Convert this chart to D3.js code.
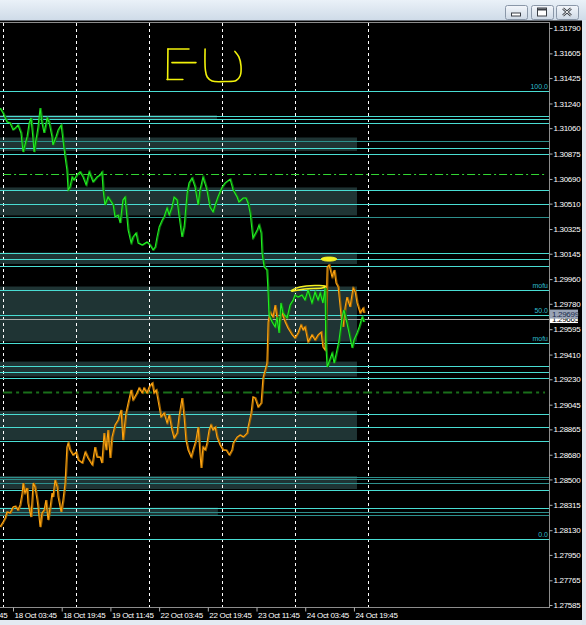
<!DOCTYPE html>
<html><head><meta charset="utf-8">
<script src="https://cdn.jsdelivr.net/npm/d3@7"></script>
<style>body{margin:0;background:#dfe7f0;overflow:hidden}svg{display:block}</style>
</head><body><svg id="c" width="586" height="625"></svg>
<script>
// ---------- data ----------
const yTickLabels = ["1.31790","1.31605","1.31425","1.31240","1.31060","1.30875","1.30690","1.30510","1.30325","1.30145","1.29960","1.29780","1.29595","1.29410","1.29230","1.29045","1.28865","1.28680","1.28500","1.28315","1.28130","1.27950","1.27765","1.27585"];
const xTickHours = [-16,0,16,32,48,64,80,96,112];
const xTickLabels = ["17 Oct 11:45","18 Oct 03:45","18 Oct 19:45","19 Oct 11:45","22 Oct 03:45","22 Oct 19:45","23 Oct 11:45","24 Oct 03:45","24 Oct 19:45"];
const gridHours = [-3.25,20.75,44.75,68.75,92.75,116.75];

const greenHours = [-4.3,-3.3,-2.0,-1.0,0,0.7,1.6,2.6,3.3,3.9,
4.6,5.3,5.9,6.6,6.9,7.9,8.2,8.9,9.5,10.2,
11.2,11.8,12.8,13.1,14.1,14.8,15.8,16.4,17.1,17.7,
18.1,18.7,19.4,20.0,21.0,22.0,23.0,24.0,25.0,26.3,
27.6,28.6,29.2,29.6,30.2,31.2,32.9,33.5,34.5,35.2,
36.1,36.8,37.5,37.8,38.8,39.4,40.4,41.1,42.4,44.0,
45.0,46.0,46.7,47.3,48.0,49.0,49.6,50.6,51.3,52.2,
52.9,53.9,54.5,55.5,56.2,57.2,57.8,58.8,59.8,60.8,
61.4,62.4,63.7,64.7,65.7,66.4,67.3,68.7,69.6,71.3,
72.3,73.6,74.2,75.6,76.5,77.2,77.9,78.5,78.8,80.2,
80.8,81.5,81.8,82.5,83.4,83.8,84.1,85.1,86.1,86.7,
87.4,88.0,88.7,90.0,91.0,92.0,92.6,93.6,94.9,95.9,
96.9,98.2,99.2,100.2,100.9,101.8,102.5,102.8,103.2,103.8,
104.8,105.5,106.4,107.1,108.1,108.7,109.7,110.4,111.4,112.0,
113.0,113.7,114.7,115.3];
const greenPrices = [1.31207,1.31170,1.31105,1.31098,1.31047,1.31061,1.31083,1.31025,1.30886,1.30937,
1.30996,1.31098,1.31134,1.30974,1.30886,1.31025,1.31068,1.31207,1.31098,1.31025,
1.31134,1.31105,1.30996,1.30937,1.30996,1.31047,1.31083,1.30974,1.30850,1.30755,
1.30609,1.30631,1.30704,1.30682,1.30719,1.30741,1.30704,1.30646,1.30741,1.30668,
1.30704,1.30719,1.30741,1.30609,1.30500,1.30558,1.30500,1.30413,1.30427,1.30369,
1.30536,1.30558,1.30391,1.30318,1.30223,1.30267,1.30296,1.30223,1.30208,1.30230,
1.30208,1.30172,1.30194,1.30267,1.30340,1.30391,1.30413,1.30478,1.30427,1.30485,
1.30558,1.30536,1.30427,1.30267,1.30340,1.30587,1.30660,1.30697,1.30631,1.30500,
1.30609,1.30704,1.30609,1.30485,1.30449,1.30500,1.30558,1.30631,1.30660,1.30689,
1.30609,1.30558,1.30522,1.30551,1.30551,1.30515,1.30442,1.30318,1.30259,1.30318,
1.30354,1.30296,1.30150,1.30048,1.30026,1.29859,1.29698,1.29647,1.29611,1.29684,
1.29567,1.29786,1.29713,1.29676,1.29771,1.29808,1.29844,1.29829,1.29844,1.29808,
1.29880,1.29786,1.29866,1.29808,1.29859,1.29786,1.29895,1.29465,1.29319,1.29356,
1.29421,1.29348,1.29443,1.29516,1.29684,1.29735,1.29640,1.29567,1.29458,1.29516,
1.29567,1.29611,1.29684,1.29647];

const orangeHours = [-4.3,-3.3,-2.6,-2.0,-1.0,0,0.7,1.6,2.3,3.0,
3.3,3.9,4.6,4.9,5.9,6.2,6.6,7.2,7.9,8.2,
8.9,9.5,10.2,10.8,11.5,12.2,12.8,13.1,13.8,14.5,
14.8,15.8,16.4,17.1,17.7,18.1,18.7,19.7,20.7,21.4,
22.7,23.7,24.6,26.0,26.9,27.6,28.6,29.2,29.9,30.6,
31.2,31.9,32.5,33.5,34.5,35.5,36.1,37.1,37.8,38.8,
39.4,40.7,41.4,42.4,43.0,44.0,44.7,45.7,46.3,47.0,
47.6,48.6,49.6,50.6,51.3,52.2,52.9,53.9,54.5,55.5,
56.2,56.8,57.5,58.5,59.1,60.1,60.8,61.4,61.8,62.4,
63.1,63.7,64.4,65.0,65.7,66.4,67.0,68.0,69.0,70.0,
71.0,71.9,72.3,73.6,74.6,75.6,76.9,77.2,78.2,78.8,
79.5,80.5,81.5,82.1,82.8,83.4,83.8,84.4,85.4,86.1,
86.7,87.4,88.4,89.4,90.3,91.7,92.6,93.6,94.6,95.3,
95.9,96.9,98.2,99.2,100.2,101.2,101.8,102.5,103.2,103.8,
104.8,105.5,106.1,106.8,107.8,108.4,109.1,109.7,110.7,111.7,
112.4,113.0,114.0,115.0,115.3];
const orangePrices = [1.28153,1.28190,1.28219,1.28263,1.28255,1.28299,1.28306,1.28277,1.28314,1.28401,
1.28474,1.28401,1.28437,1.28328,1.28226,1.28328,1.28474,1.28445,1.28350,1.28299,
1.28153,1.28255,1.28277,1.28350,1.28204,1.28299,1.28401,1.28372,1.28496,1.28445,
1.28372,1.28263,1.28350,1.28474,1.28736,1.28765,1.28714,1.28678,1.28700,1.28642,
1.28620,1.28700,1.28656,1.28605,1.28736,1.28663,1.28663,1.28620,1.28838,1.28714,
1.28860,1.28656,1.28809,1.28897,1.28933,1.29006,1.28787,1.28984,1.29057,1.29152,
1.29079,1.29130,1.29166,1.29130,1.29166,1.29130,1.29174,1.29203,1.29130,1.29152,
1.29079,1.28955,1.28984,1.28911,1.28970,1.28860,1.28802,1.28838,1.28955,1.29093,
1.28955,1.28787,1.28714,1.28663,1.28714,1.28787,1.28882,1.28693,1.28583,1.28736,
1.28714,1.28765,1.28860,1.28897,1.28860,1.28882,1.28809,1.28751,1.28714,1.28714,
1.28678,1.28714,1.28765,1.28809,1.28824,1.28809,1.28838,1.28882,1.28984,1.29101,
1.29093,1.29028,1.29057,1.29239,1.29297,1.29348,1.29647,1.29720,1.29684,1.29771,
1.29684,1.29647,1.29713,1.29647,1.29604,1.29553,1.29531,1.29567,1.29625,1.29589,
1.29611,1.29502,1.29553,1.29516,1.29553,1.29574,1.29465,1.29443,1.30048,1.30063,
1.29975,1.30026,1.29931,1.29902,1.29684,1.29611,1.29757,1.29829,1.29757,1.29895,
1.29866,1.29786,1.29713,1.29749,1.29713];

// horizontal level lines (b = bright, d = dim)
const levelPrices = [1.31331,1.31146,1.31127,1.31096,1.30966,1.30918,1.30870,1.30609,1.30507,1.30416,1.30147,1.30103,1.30053,1.29884,1.29698,1.29498,1.29329,1.29281,1.29237,1.28975,1.28880,1.28778,1.28518,1.28500,1.28474,1.28421,1.28289,1.28264,1.28240,1.28063];
const levelKinds  = ["b","b","b","b","d","b","b","b","b","d","b","b","b","b","b","b","b","b","b","b","b","b","d","d","d","b","b","d","d","b"];
// shaded zones
const zoneTop    = [1.31156,1.30992,1.30628,1.30154,1.29906,1.29359,1.28999,1.28525,1.28295];
const zoneBottom = [1.31127,1.30894,1.30424,1.30070,1.29505,1.29250,1.28787,1.28430,1.28234];
const zoneEndHours = [67.0,113,113,113,113,113,113,113,67.3];
// fibo labels
const fiboPrices = [1.31331,1.29884,1.29698,1.29498,1.28063];
const fiboLabels = ["100.0","mofu","50.0","mofu","0.0"];
const dashDotPrices = [1.30726,1.29137];
const dashDotColors = ["#33d633","#1a6f1a"];
const bidPrice = 1.29669, bidLabel = "1.29665";
const markPrice = 1.29705, markLabel = "1.29699";
// hand-drawn annotation (hours, price)
const letterE = [
  [[50.9,1.31637],[50.8,1.31415]],
  [[50.9,1.31637],[57.8,1.31637]],
  [[52.2,1.31538],[60.1,1.31538]],
  [[50.6,1.31415],[55.8,1.31415]]
];
const letterU = [[63.1,1.31637],[63.2,1.31484],[63.8,1.31433],[65.4,1.31404],[69.6,1.31400],[73.3,1.31407],[74.6,1.31440],[74.9,1.31513],[74.2,1.31579],[72.9,1.31619]];
const blobTop = [[101.2,1.30106],[102.5,1.30119],[105.1,1.30119],[106.4,1.30106],[105.1,1.30093],[102.5,1.30093]];
const loopMid = [[91.7,1.29880],[94.3,1.29902],[99.2,1.29913],[102.5,1.29910],[101.5,1.29895],[95.9,1.29888],[92.0,1.29873]];

// ---------- layout ----------
const W = 586, H = 625;
const plotL = 0, plotR = 549, plotT = 23, plotB = 607;
const x = d3.scaleLinear().domain([-4.271, 176.08]).range([0, 549]);
const y = d3.scaleLinear().domain([1.27585, 1.31790]).range([605, 28]);

const svg = d3.select("#c");
const defs = svg.append("defs");
const g1 = defs.append("linearGradient").attr("id","chrome").attr("x1",0).attr("y1",0).attr("x2",0).attr("y2",1);
g1.append("stop").attr("offset","0").attr("stop-color","#eaf1f8");
g1.append("stop").attr("offset","1").attr("stop-color","#cfdbe8");
const g2 = defs.append("linearGradient").attr("id","btn").attr("x1",0).attr("y1",0).attr("x2",0).attr("y2",1);
g2.append("stop").attr("offset","0").attr("stop-color","#f4f7fb");
g2.append("stop").attr("offset","1").attr("stop-color","#cdd8e5");
defs.append("clipPath").attr("id","plot").append("rect")
  .attr("x",plotL).attr("y",plotT).attr("width",plotR-plotL).attr("height",plotB-plotT);

// window background
svg.append("rect").attr("width",W).attr("height",H).attr("fill","#dde6ef");
svg.append("rect").attr("width",W).attr("height",20).attr("fill","url(#chrome)");
svg.append("rect").attr("x",0).attr("y",20).attr("width",582).attr("height",600).attr("fill","#000");
svg.append("line").attr("x1",0).attr("x2",582).attr("y1",20.5).attr("y2",20.5).attr("stroke","#6a6f76");

// window buttons
const btnX = [505,531,556];
btnX.forEach((bx,i)=>{
  svg.append("rect").attr("x",bx+0.5).attr("y",5.5).attr("width",22).attr("height",14).attr("rx",2)
    .attr("fill","url(#btn)").attr("stroke","#8a97a8");
  const cx = bx+11, cy = 12.5;
  if(i===0){
    svg.append("rect").attr("x",cx-4.5).attr("y",cy+0.5).attr("width",9).attr("height",3).attr("fill","#fff").attr("stroke","#3a3f46");
  } else if(i===1){
    svg.append("rect").attr("x",cx-4.5).attr("y",cy-4.5).attr("width",9).attr("height",8).attr("fill","#fff").attr("stroke","#3a3f46");
    svg.append("line").attr("x1",cx-4.5).attr("x2",cx+4.5).attr("y1",cy-3).attr("y2",cy-3).attr("stroke","#3a3f46").attr("stroke-width",2);
  } else {
    svg.append("path").attr("d",`M${cx-4},${cy-4}L${cx+4},${cy+3}M${cx+4},${cy-4}L${cx-4},${cy+3}`)
      .attr("stroke","#3a3f46").attr("stroke-width",2.4);
    svg.append("path").attr("d",`M${cx-4},${cy-4}L${cx+4},${cy+3}M${cx+4},${cy-4}L${cx-4},${cy+3}`)
      .attr("stroke","#fff").attr("stroke-width",0.9);
  }
});

const plot = svg.append("g").attr("clip-path","url(#plot)");

// zones
plot.selectAll("rect.zone").data(zoneTop).join("rect").attr("class","zone")
  .attr("x", x(-6))
  .attr("y", d=>y(d))
  .attr("width",(d,i)=>x(zoneEndHours[i])-x(-6))
  .attr("height",(d,i)=>y(zoneBottom[i])-y(d))
  .attr("fill","#1f3434");

// vertical grid
plot.selectAll("line.grid").data(gridHours).join("line").attr("class","grid")
  .attr("x1",d=>Math.round(x(d))+0.5).attr("x2",d=>Math.round(x(d))+0.5)
  .attr("y1",plotT).attr("y2",plotB)
  .attr("stroke","#ffffff").attr("stroke-dasharray","3,3").attr("stroke-width",1);

// level lines
plot.selectAll("line.lvl").data(levelPrices).join("line").attr("class","lvl")
  .attr("x1",plotL).attr("x2",plotR)
  .attr("y1",d=>Math.round(y(d))+0.5).attr("y2",d=>Math.round(y(d))+0.5)
  .attr("stroke",(d,i)=>levelKinds[i]==="b"?"#49ddd3":"#2d8f8c").attr("stroke-width",1);

// dash-dot lines
plot.selectAll("line.dd").data(dashDotPrices).join("line").attr("class","dd")
  .attr("x1",x(gridHours[0])).attr("x2",plotR-4)
  .attr("y1",d=>Math.round(y(d))+0.5).attr("y2",d=>Math.round(y(d))+0.5)
  .attr("stroke",(d,i)=>dashDotColors[i])
  .attr("stroke-width",(d,i)=>i===0?1.2:2)
  .attr("stroke-dasharray",(d,i)=>i===0?"8,3,2,3":"9,4,3,4");

// bid line
plot.append("line").attr("x1",plotL).attr("x2",plotR)
  .attr("y1",Math.round(y(bidPrice))+0.5).attr("y2",Math.round(y(bidPrice))+0.5)
  .attr("stroke","#a9a9a9");

// fibo labels
plot.selectAll("text.fibo").data(fiboPrices).join("text").attr("class","fibo")
  .attr("x",plotR-1).attr("y",d=>y(d)-2)
  .attr("text-anchor","end").attr("font-family","Liberation Sans, Arial, sans-serif")
  .attr("font-size",7).attr("fill","#2fbccb")
  .text((d,i)=>fiboLabels[i]);

// series
const line = d3.line().x(d=>x(d[0])).y(d=>y(d[1]));
const orange = orangeHours.map((h,i)=>[h,orangePrices[i]]);
const green = greenHours.map((h,i)=>[h,greenPrices[i]]);
plot.append("path").datum(orange).attr("d",line).attr("fill","none")
  .attr("stroke","#9a6000").attr("stroke-width",1.4).attr("transform","translate(1,0)");
plot.append("path").datum(orange).attr("d",line).attr("fill","none")
  .attr("stroke","#ffa511").attr("stroke-width",1.1);
plot.append("path").datum(green).attr("d",line).attr("fill","none")
  .attr("stroke","#0c7a0c").attr("stroke-width",1.4).attr("transform","translate(1,0)");
plot.append("path").datum(green).attr("d",line).attr("fill","none")
  .attr("stroke","#22ee22").attr("stroke-width",1.1);

// annotations
const ann = d3.line().x(d=>x(d[0])).y(d=>y(d[1]));
letterE.forEach(seg=>{
  plot.append("path").datum(seg).attr("d",ann).attr("fill","none")
    .attr("stroke","#f2f20a").attr("stroke-width",1.6).attr("stroke-linecap","round");
});
plot.append("path").datum(letterU).attr("d",ann.curve(d3.curveCatmullRom)).attr("fill","none")
  .attr("stroke","#f2f20a").attr("stroke-width",1.6).attr("stroke-linecap","round");
const closed = d3.line().x(d=>x(d[0])).y(d=>y(d[1])).curve(d3.curveCardinalClosed);
plot.append("path").datum(blobTop).attr("d",closed).attr("fill","#f5f020").attr("stroke","#f5f020").attr("stroke-width",1);
plot.append("path").datum(loopMid).attr("d",closed).attr("fill","none").attr("stroke","#f5f020").attr("stroke-width",1.6);

// frame
svg.append("line").attr("x1",0).attr("x2",plotR).attr("y1",plotT-0.5).attr("y2",plotT-0.5).attr("stroke","#8c8c8c");
svg.append("line").attr("x1",plotR+0.5).attr("x2",plotR+0.5).attr("y1",plotT-1).attr("y2",plotB+0.5).attr("stroke","#8c8c8c");
svg.append("line").attr("x1",0).attr("x2",plotR+1).attr("y1",plotB+0.5).attr("y2",plotB+0.5).attr("stroke","#8c8c8c");

// axes
const font = "Liberation Sans, Arial, sans-serif";
const yAxis = d3.axisRight(y).tickValues(yTickLabels.map(Number))
  .tickFormat((d,i)=>yTickLabels[i]).tickSize(3).tickPadding(1);
const ya = svg.append("g").attr("transform",`translate(${plotR+0.5},0)`).call(yAxis);
ya.select(".domain").remove();
ya.selectAll("line").attr("stroke","#b0b0b0");
ya.selectAll("text").attr("fill","#ffffff").attr("font-family",font).attr("font-size",8)
  .attr("letter-spacing","-0.3");

const xAxis = d3.axisBottom(x).tickValues(xTickHours)
  .tickFormat((d,i)=>xTickLabels[i]).tickSize(4).tickPadding(1);
const xa = svg.append("g").attr("transform",`translate(0,${plotB+0.5})`).call(xAxis);
xa.select(".domain").remove();
xa.selectAll("line").attr("stroke","#b0b0b0");
xa.selectAll("text").attr("fill","#ffffff").attr("font-family",font).attr("font-size",8)
  .attr("letter-spacing","-0.3").attr("text-anchor","start").attr("x",1);

// price labels on the axis
const by = y(bidPrice);
svg.append("rect").attr("x",plotR+1).attr("y",by-5).attr("width",28).attr("height",9).attr("fill","#ffffff");
svg.append("text").attr("x",plotR+3).attr("y",by+3).attr("font-family",font).attr("font-size",8)
  .attr("letter-spacing","-0.3").attr("fill","#000").text(bidLabel);
const my = y(markPrice);
svg.append("rect").attr("x",plotR+1).attr("y",my-4.5).attr("width",28).attr("height",9).attr("fill","#98a3b6");
svg.append("text").attr("x",plotR+3).attr("y",my+3).attr("font-family",font).attr("font-size",8)
  .attr("letter-spacing","-0.3").attr("fill","#1b2a4a").text(markLabel);

// bottom / right window border
svg.append("rect").attr("x",0).attr("y",620).attr("width",W).attr("height",5).attr("fill","#e3eaf2");
svg.append("rect").attr("x",582).attr("y",20).attr("width",4).attr("height",605).attr("fill","#dfe7f0");
</script></body></html>
